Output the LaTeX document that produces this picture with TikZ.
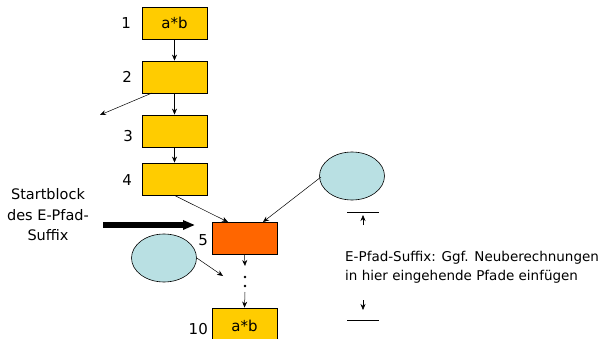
\documentclass[tikz,border=0pt]{standalone}
\usepackage{fontspec}
\setmainfont{DejaVu Sans}
\usetikzlibrary{arrows.meta,shapes.geometric}
\definecolor{boxyellow}{HTML}{FFCC00}
\definecolor{boxorange}{HTML}{FF6600}
\definecolor{ellteal}{HTML}{B9E0E3}
\tikzset{
  blk/.style={draw=black, line width=0.8pt, fill=boxyellow, minimum width=65pt, minimum height=32pt, inner sep=0pt, font=\fontsize{15}{17}\selectfont},
  blkhot/.style={blk, fill=boxorange},
  ell/.style={draw=black, line width=0.6pt, fill=ellteal, ellipse, minimum width=65pt, minimum height=48pt, inner sep=0pt},
  num/.style={font=\fontsize{15}{17}\selectfont, anchor=east, inner sep=0pt},
  conn/.style={line width=0.5pt, -{Stealth[length=6pt,width=5pt]}},
  txt/.style={font=\fontsize{13.5}{19.5}\selectfont, inner sep=0pt},
  bigtxt/.style={font=\fontsize{14.5}{20.5}\selectfont, inner sep=0pt},
  bar/.style={line width=0.6pt},
  dotmark/.style={fill=black, circle, inner sep=0pt, minimum size=2.6pt}
}
\begin{document}
\begin{tikzpicture}[x=1pt,y=-1pt]
\useasboundingbox (0,0) rectangle (599,339);
\fill[white] (0,0) rectangle (599,339);
\node[blk] (b1) at (174.5,23) {a*b};
\node[blk] (b2) at (174.5,77) {};
\node[blk] (b3) at (174.5,131) {};
\node[blk] (b4) at (174.5,179) {};
\node[blkhot] (b5) at (244.5,238.5) {};
\node[blk, minimum height=34pt] (b10) at (244.5,325) {};
\node[font=\fontsize{15}{17}\selectfont, inner sep=0pt] (t10) at (244.5,325.5) {a*b};
\node[num] (n1) at (131,23) {1};
\node[num] (n2) at (132,77) {2};
\node[num] (n3) at (133,136) {3};
\node[num] (n4) at (132,180) {4};
\node[num] (n5) at (208,240) {5};
\node[num] (n10) at (208,329) {10};
\node[ell] (e1) at (352,176) {};
\node[ell] (e2) at (164,258) {};
\coordinate (c2) at (100,115);
\coordinate (d1) at (245,266);
\coordinate (d2) at (245,292);
\coordinate (e2t) at (223,276);
\coordinate (b2o) at (152,93);
\coordinate (b5a) at (228,222);
\coordinate (b5b) at (263,222);
\coordinate (e1w) at (321,177);
\draw[conn] (b1) -- (b2);
\draw[conn] (b2) -- (b3);
\draw[conn] (b3) -- (b4);
\draw[conn] (b2o) -- (c2);
\draw[conn] (b4.south) -- (b5a);
\draw[conn] (e1w) -- (b5b);
\draw[conn] (e2.east) -- (e2t);
\draw[conn] (b5.south) -- (d1);
\node[dotmark] (dt1) at (245,277) {};
\node[dotmark] (dt2) at (245,286) {};
\draw[conn] (d2) -- (b10.north);
\node[bigtxt, align=center] (sb) at (48,215) {Startblock\\des E-Pfad-\\Suffix};
\coordinate (ta) at (103,225);
\coordinate (tb) at (195,225);
\draw[line width=6pt, -{Triangle[length=12pt,width=9pt]}] (ta) -- (tb);
\coordinate (l1a) at (347,212);
\coordinate (l1b) at (379,212);
\draw[bar] (l1a) -- (l1b);
\coordinate (u1) at (363,225);
\coordinate (u1e) at (363,215);
\draw[conn] (u1) -- (u1e);
\node[txt, anchor=north west, align=left] (lbl) at (345,251) {E-Pfad-Suffix: Ggf. Neuberechnungen\\in hier eingehende Pfade einfügen};
\coordinate (l2a) at (347,320);
\coordinate (l2b) at (379,320);
\draw[bar] (l2a) -- (l2b);
\coordinate (u2) at (363,300);
\coordinate (u2e) at (363,310);
\draw[conn] (u2) -- (u2e);
\end{tikzpicture}
\end{document}
